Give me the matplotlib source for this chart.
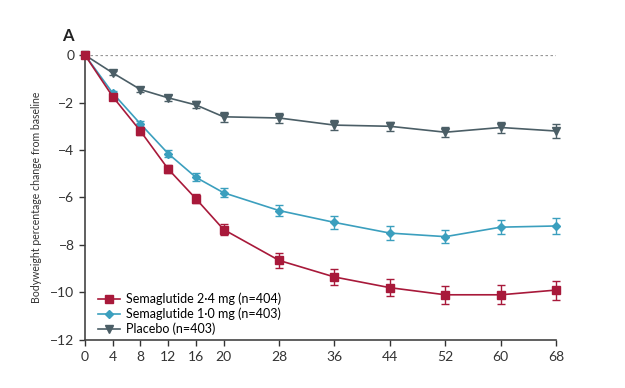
import matplotlib.pyplot as plt
from matplotlib.lines import Line2D

plt.rcParams['font.family'] = ['Lato', 'DejaVu Sans']

weeks = [0, 4, 8, 12, 16, 20, 28, 36, 44, 52, 60, 68]
sema24 = [0, -1.75, -3.2, -4.8, -6.05, -7.35, -8.65, -9.35, -9.8, -10.1, -10.1, -9.9]
sema24_err = [0, 0.12, 0.15, 0.18, 0.2, 0.22, 0.3, 0.32, 0.35, 0.38, 0.4, 0.4]
sema10 = [0, -1.6, -2.9, -4.15, -5.15, -5.8, -6.55, -7.05, -7.5, -7.65, -7.25, -7.2]
sema10_err = [0, 0.1, 0.12, 0.15, 0.17, 0.2, 0.25, 0.27, 0.3, 0.28, 0.3, 0.35]
placebo = [0, -0.75, -1.45, -1.8, -2.1, -2.6, -2.65, -2.95, -3.0, -3.25, -3.05, -3.2]
placebo_err = [0, 0.1, 0.1, 0.12, 0.15, 0.2, 0.2, 0.2, 0.2, 0.2, 0.22, 0.28]
labels = ['Semaglutide 2·4 mg (n=404)', 'Semaglutide 1·0 mg (n=403)', 'Placebo (n=403)']

red = '#a8193a'
teal = '#3b9fbe'
grey = '#4b5e66'
axc = '#444444'

fig = plt.figure(figsize=(6.25, 3.88), dpi=100)
ax = fig.add_axes([0.136, 0.124, 0.754, 0.734])

ax.axhline(0, color='#999999', ls=(0, (2, 2)), lw=0.9, zorder=1)

series = [(sema24, sema24_err, red, 's', 6), (sema10, sema10_err, teal, 'D', 4.5),
          (placebo, placebo_err, grey, 'v', 5.5)]
handles = []
for i, (y, e, c, m, ms) in enumerate(series):
    ax.errorbar(weeks, y, yerr=e, color=c, marker=m, ms=ms, lw=1.2, capsize=3,
                elinewidth=1, capthick=1, clip_on=False, zorder=4 - i)
    handles.append(Line2D([], [], color=c, marker=m, ms=ms, lw=1.2))

ax.set_xlim(0, 68)
ax.set_ylim(-12, 0)
ax.set_xticks(weeks)
ax.set_yticks([0, -2, -4, -6, -8, -10, -12])
for s in ['top', 'right']:
    ax.spines[s].set_visible(False)
for s in ['left', 'bottom']:
    ax.spines[s].set_color(axc)
    ax.spines[s].set_linewidth(1.2)
ax.tick_params(colors='#333333', labelsize=10, length=4, width=1)
ax.tick_params(axis='x', pad=4)
ax.set_ylabel('Bodyweight percentage change from baseline', fontsize=7.6, color='#333333', labelpad=6)

fig.text(0.10, 0.895, 'A', fontsize=12, fontweight='bold', color='#222222')

ax.legend(handles, labels, loc='lower left', bbox_to_anchor=(0.01, -0.015), frameon=False,
          fontsize=9, handlelength=1.7, handletextpad=0.5, labelspacing=0.2, borderaxespad=0.3)

fig.savefig('out.png', dpi=100)
